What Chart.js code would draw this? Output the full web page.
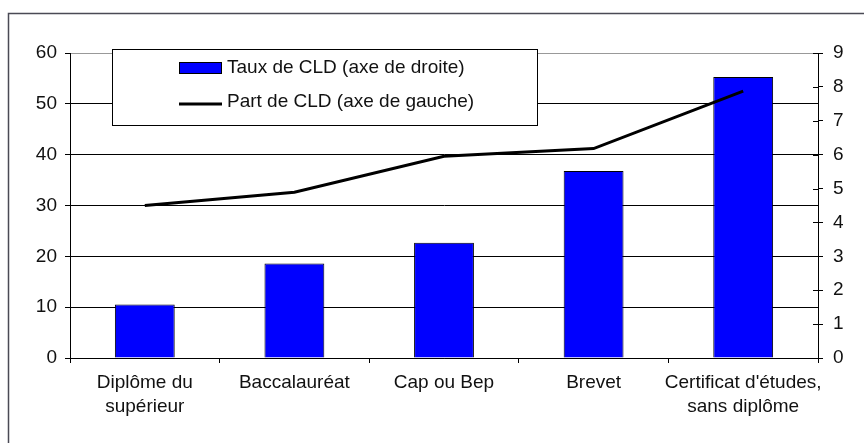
<!DOCTYPE html>
<html>
<head>
<meta charset="utf-8">
<script src="https://cdn.jsdelivr.net/npm/chart.js@4/dist/chart.umd.min.js"></script>
<style>
  html, body { margin: 0; padding: 0; background: #fff; }
  #wrap { width: 864px; height: 443px; }
</style>
</head>
<body>
<div id="wrap"><canvas id="chart" width="864" height="443"></canvas></div>
<script>
const categories = [
  ['Diplôme du', 'supérieur'],
  'Baccalauréat',
  'Cap ou Bep',
  'Brevet',
  ["Certificat d'études,", 'sans diplôme']
];
// bars, right axis
const tauxCLD = [1.58, 2.79, 3.40, 5.52, 8.29];
// line, left axis
const partCLD = [30.0, 32.6, 39.7, 41.2, 52.5];

const tauxLabel = 'Taux de CLD (axe de droite)';
const partLabel = 'Part de CLD (axe de gauche)';

const FONT = '"Liberation Sans", Arial, sans-serif';
const TEXT = '#111';

// outer grey frame of the picture
const framePlugin = {
  id: 'frame',
  beforeDraw(chart) {
    const ctx = chart.ctx;
    ctx.save();
    ctx.strokeStyle = '#4a4a55';
    ctx.lineWidth = 1.5;
    ctx.strokeRect(8.5, 13.5, chart.width + 20, chart.height + 20);
    ctx.restore();
  }
};

// right axis ticks cross the axis line
const innerTicksPlugin = {
  id: 'innerTicks',
  afterDraw(chart) {
    const scale = chart.scales.y1;
    const ctx = chart.ctx;
    ctx.save();
    ctx.strokeStyle = '#000';
    ctx.lineWidth = 1;
    scale.ticks.forEach(t => {
      const y = Math.round(scale.getPixelForValue(t.value)) + 0.5;
      ctx.beginPath();
      ctx.moveTo(scale.left - 5, y);
      ctx.lineTo(scale.left, y);
      ctx.stroke();
    });
    ctx.restore();
  }
};

// boxed legend inside the plot
const boxLegendPlugin = {
  id: 'boxLegend',
  afterDraw(chart) {
    const ctx = chart.ctx;
    const ds = chart.data.datasets;
    ctx.save();
    ctx.fillStyle = '#fff';
    ctx.fillRect(112, 49, 425, 76);
    ctx.strokeStyle = '#000';
    ctx.lineWidth = 1;
    ctx.strokeRect(112.5, 49.5, 425, 76);

    ctx.fillStyle = ds[0].backgroundColor;
    ctx.fillRect(179, 62, 43, 12);
    ctx.strokeRect(179.5, 62.5, 42, 11);

    ctx.lineWidth = 3;
    ctx.beginPath();
    ctx.moveTo(179, 104);
    ctx.lineTo(222, 104);
    ctx.stroke();

    ctx.fillStyle = TEXT;
    ctx.font = '19px ' + FONT;
    ctx.textBaseline = 'middle';
    ctx.fillText(ds[0].label, 227, 68);
    ctx.fillText(ds[1].label, 227, 102);
    ctx.restore();
  }
};

new Chart(document.getElementById('chart'), {
  data: {
    labels: categories,
    datasets: [
      {
        type: 'bar',
        label: tauxLabel,
        data: tauxCLD,
        yAxisID: 'y1',
        backgroundColor: '#0000ff',
        borderColor: '#000',
        borderWidth: 1,
        categoryPercentage: 1,
        barPercentage: 0.4,
        order: 2
      },
      {
        type: 'line',
        label: partLabel,
        data: partCLD,
        yAxisID: 'y',
        borderColor: '#000',
        borderWidth: 3,
        pointRadius: 0,
        tension: 0,
        fill: false,
        order: 1
      }
    ]
  },
  options: {
    responsive: false,
    animation: false,
    layout: { padding: { top: 53, left: 0, right: 0, bottom: 0 } },
    plugins: {
      legend: { display: false },
      tooltip: { enabled: false }
    },
    scales: {
      x: {
        grid: {
          offset: true,
          drawOnChartArea: false,
          color: '#000',
          tickLength: 5
        },
        border: { display: true, color: '#000', width: 1 },
        ticks: {
          color: TEXT,
          font: { family: FONT, size: 19, lineHeight: 1.26 },
          padding: 8,
          maxRotation: 0,
          autoSkip: false
        },
        afterFit(scale) { scale.height = 85; }
      },
      y: {
        position: 'left',
        min: 0,
        max: 60,
        grid: {
          color: ctx => (ctx.tick && ctx.tick.value === 60 ? '#999' : '#000'),
          tickColor: '#000',
          lineWidth: 1,
          tickLength: 5
        },
        border: { display: true, color: '#000', width: 1 },
        ticks: {
          stepSize: 10,
          color: TEXT,
          font: { family: FONT, size: 19 },
          padding: 8
        },
        afterFit(scale) { scale.width = 70; }
      },
      y1: {
        position: 'right',
        min: 0,
        max: 9,
        grid: {
          drawOnChartArea: false,
          color: '#000',
          tickLength: 5
        },
        border: { display: true, color: '#000', width: 1 },
        ticks: {
          stepSize: 1,
          color: TEXT,
          font: { family: FONT, size: 19 },
          padding: 10
        },
        afterFit(scale) { scale.width = 46; }
      }
    }
  },
  plugins: [framePlugin, innerTicksPlugin, boxLegendPlugin]
});
</script>
</body>
</html>
